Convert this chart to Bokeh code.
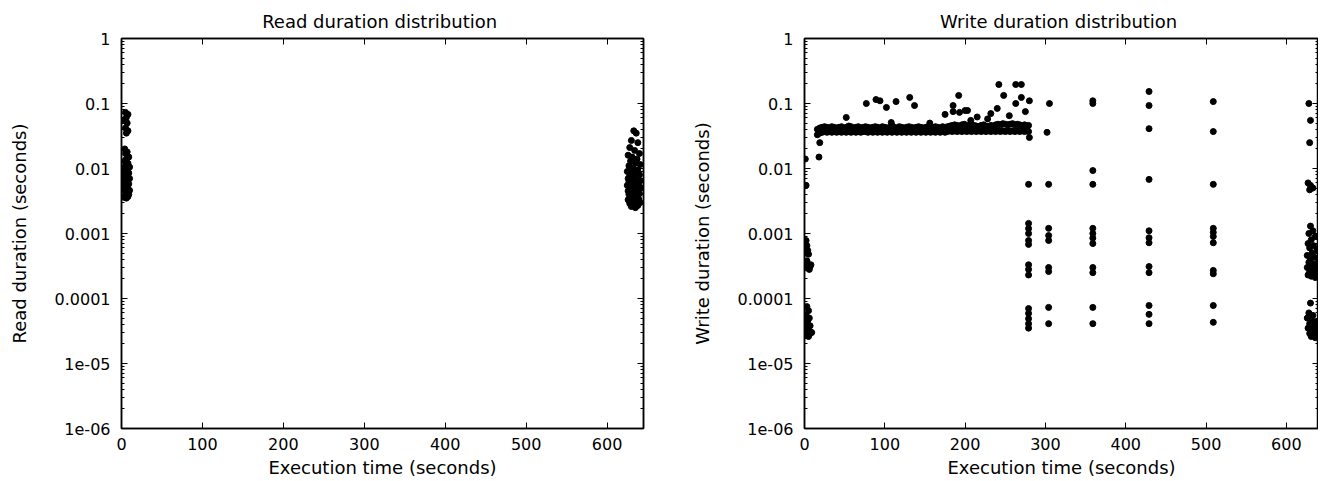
from bokeh.plotting import figure
from bokeh.layouts import row
from bokeh.models import FixedTicker, LinearAxis, LogAxis, Range1d
from bokeh.embed import file_html
from bokeh.resources import INLINE

# ---------------- tick labels ----------------
x_ticks = [0, 100, 200, 300, 400, 500, 600]
y_ticks = [1e-6, 1e-5, 1e-4, 1e-3, 1e-2, 1e-1, 1]
y_tick_labels = ["1e-06", "1e-05", "0.0001", "0.001", "0.01", "0.1", "1"]

# ---------------- read durations ----------------
read_x = [5, 8, 6, 4, 7, 5, 8, 6,
          4, 7, 5, 9, 6, 4, 8, 5, 10, 3, 7, 5, 9, 4, 6, 8, 3, 10, 5, 7, 4, 9,
          6, 3, 8, 5, 10, 4, 7, 6, 9, 5, 8, 3, 6,
          633, 636, 630, 638, 628, 634, 640, 626, 631, 637, 629, 635, 641, 627,
          632, 638, 625, 630, 636, 640, 628, 633, 626, 631, 637, 641, 627, 629,
          634, 639, 625, 631, 636, 642, 628, 633, 638, 626, 630, 635, 640, 627,
          632, 637, 629, 634, 639, 626, 631, 636, 641, 628, 633, 638, 630, 635]
read_y = [0.073, 0.068, 0.061, 0.055, 0.05, 0.042, 0.038, 0.035,
          0.020, 0.018, 0.017, 0.015, 0.014, 0.013, 0.012, 0.011, 0.0105, 0.010,
          0.0095, 0.009, 0.0085, 0.008, 0.0078, 0.0075, 0.007, 0.007, 0.0066,
          0.0062, 0.006, 0.0058, 0.0055, 0.0052, 0.005, 0.0048, 0.0046, 0.0045,
          0.0043, 0.0041, 0.004, 0.0038, 0.0037, 0.0036, 0.0035,
          0.038, 0.035, 0.027, 0.025, 0.021, 0.019, 0.017, 0.016, 0.015, 0.014,
          0.013, 0.012, 0.0115, 0.011, 0.010, 0.0095, 0.009, 0.0088, 0.0085,
          0.008, 0.0078, 0.0075, 0.007, 0.0068, 0.0066, 0.0065, 0.0062, 0.006,
          0.0058, 0.0057, 0.0055, 0.0053, 0.0052, 0.005, 0.0049, 0.0047, 0.0046,
          0.0045, 0.0043, 0.0042, 0.0041, 0.004, 0.0038, 0.0037, 0.0036, 0.0035,
          0.0034, 0.0033, 0.0032, 0.0031, 0.003, 0.0029, 0.0028, 0.0027, 0.0026,
          0.0025]

# ---------------- write durations: steady band ----------------
band_x = [16, 19, 22, 25, 28, 31, 34, 37, 40, 43,
          46, 49, 52, 55, 58, 61, 64, 67, 70, 73,
          76, 79, 82, 85, 88, 91, 94, 97, 100, 103,
          106, 109, 112, 115, 118, 121, 124, 127, 130, 133,
          136, 139, 142, 145, 148, 151, 154, 157, 160, 163,
          166, 169, 172, 175, 178, 181, 184, 187, 190, 193,
          196, 199, 202, 205, 208, 211, 214, 217, 220, 223,
          226, 229, 232, 235, 238, 241, 244, 247, 250, 253,
          256, 259, 262, 265, 268, 271, 274, 277, 279]
band_hi = [0.040, 0.042, 0.043, 0.044, 0.043, 0.042, 0.044, 0.043, 0.042, 0.043,
           0.044, 0.042, 0.043, 0.045, 0.044, 0.042, 0.043, 0.044, 0.042, 0.043,
           0.044, 0.043, 0.042, 0.043, 0.044, 0.043, 0.042, 0.044, 0.043, 0.042,
           0.043, 0.046, 0.043, 0.042, 0.044, 0.043, 0.042, 0.043, 0.044, 0.043,
           0.042, 0.043, 0.044, 0.043, 0.042, 0.043, 0.044, 0.042, 0.043, 0.044,
           0.043, 0.042, 0.044, 0.043, 0.044, 0.045, 0.046, 0.047, 0.046, 0.045,
           0.047, 0.048, 0.046, 0.045, 0.047, 0.046, 0.045, 0.044, 0.046, 0.047,
           0.045, 0.044, 0.046, 0.045, 0.047, 0.048, 0.047, 0.049, 0.048, 0.047,
           0.048, 0.049, 0.047, 0.048, 0.047, 0.046, 0.047, 0.045, 0.046]
band_lo = [0.033, 0.035, 0.036, 0.037, 0.036, 0.037, 0.036, 0.037, 0.036, 0.037,
           0.036, 0.037, 0.036, 0.037, 0.036, 0.037, 0.036, 0.037, 0.036, 0.037,
           0.037, 0.036, 0.037, 0.036, 0.037, 0.036, 0.037, 0.036, 0.037, 0.036,
           0.037, 0.036, 0.037, 0.036, 0.037, 0.036, 0.037, 0.036, 0.037, 0.036,
           0.037, 0.036, 0.037, 0.036, 0.037, 0.036, 0.037, 0.036, 0.037, 0.036,
           0.037, 0.036, 0.037, 0.036, 0.037, 0.038, 0.037, 0.038, 0.037, 0.038,
           0.037, 0.038, 0.037, 0.038, 0.037, 0.038, 0.037, 0.038, 0.037, 0.038,
           0.037, 0.038, 0.037, 0.038, 0.037, 0.038, 0.037, 0.038, 0.037, 0.038,
           0.037, 0.038, 0.037, 0.038, 0.037, 0.038, 0.037, 0.038, 0.037]

# ---------------- write durations: scattered points ----------------
start_x = [1, 18, 19, 2,
           2, 3, 4, 2, 5, 3, 4, 6, 2, 7, 5, 8, 3, 1, 6,
           3, 5, 2, 6, 4, 3, 7, 2, 5, 8, 4, 6, 3, 1, 9, 2, 5]
start_y = [0.014, 0.015, 0.025, 0.0055,
           7.8e-4, 6.5e-4, 5.5e-4, 5.0e-4, 4.8e-4, 3.8e-4, 3.4e-4, 3.2e-4, 3.0e-4,
           3.1e-4, 2.9e-4, 3.3e-4, 3.5e-4, 3.2e-4, 2.8e-4,
           7.5e-5, 6.5e-5, 5.5e-5, 5.0e-5, 4.5e-5, 4.0e-5, 3.8e-5, 3.5e-5, 3.2e-5,
           3.0e-5, 2.9e-5, 2.8e-5, 3.1e-5, 3.3e-5, 3.0e-5, 2.7e-5, 2.6e-5]

slow_x = [52, 77, 89, 94, 102, 114, 131, 137, 175, 185,
          185, 192, 193, 200, 108, 156, 207, 242, 263, 270,
          248, 270, 263, 280, 275, 240, 203, 280, 305, 302,
          215, 228, 255, 232]
slow_y = [0.061, 0.1, 0.115, 0.11, 0.087, 0.107, 0.124, 0.093, 0.068, 0.093,
          0.075, 0.133, 0.073, 0.078, 0.051, 0.05, 0.055, 0.196, 0.196, 0.196,
          0.133, 0.124, 0.1, 0.11, 0.075, 0.084, 0.078, 0.03, 0.1, 0.036,
          0.062, 0.058, 0.065, 0.07]

burst_t = [279, 304, 359, 429, 509]
burst_d = [
    [0.0057, 0.00143, 0.00119, 0.001, 7.8e-4, 6.8e-4, 3.3e-4, 2.8e-4, 2.3e-4,
     7.0e-5, 5.9e-5, 4.9e-5, 4.1e-5, 3.5e-5],
    [0.0057, 0.0012, 9.3e-4, 7.8e-4, 3.0e-4, 2.6e-4, 7.3e-5, 4.1e-5],
    [0.11, 0.1, 0.0093, 0.0057, 0.0012, 0.001, 8.5e-4, 7e-4, 3e-4, 2.5e-4,
     7.3e-5, 4.1e-5],
    [0.153, 0.093, 0.041, 0.0068, 0.0011, 8.6e-4, 7.2e-4, 3.1e-4, 2.5e-4,
     7.8e-5, 5.7e-5, 4.1e-5],
    [0.107, 0.037, 0.0057, 0.0012, 0.00104, 9e-4, 7.2e-4, 2.7e-4, 2.4e-4,
     7.8e-5, 4.3e-5],
]

end_x = [628, 630, 629,
         627, 630, 633, 629, 631,
         630, 633, 628, 636, 631, 627, 634, 629, 638, 632, 626, 635, 630, 640,
         628, 633, 637, 626, 631, 635, 629, 639, 633, 627, 631, 636,
         630, 628, 633, 626, 631, 636, 629, 634, 639, 627, 632, 637, 641, 629,
         634, 638, 631, 636]
end_y = [0.1, 0.055, 0.025,
         0.006, 0.0055, 0.005, 0.0047, 0.0052,
         0.0013, 0.0011, 0.001, 9e-4, 8e-4, 7e-4, 6.5e-4, 6e-4, 5.5e-4, 5e-4,
         4.6e-4, 4.3e-4, 4e-4, 3.8e-4, 3.6e-4, 3.4e-4, 3.2e-4, 3.0e-4, 2.9e-4,
         2.7e-4, 2.6e-4, 2.5e-4, 2.4e-4, 2.3e-4, 2.2e-4, 2.1e-4,
         8.5e-5, 6e-5, 5.5e-5, 5e-5, 4.7e-5, 4.4e-5, 4.1e-5, 3.9e-5, 3.7e-5,
         3.5e-5, 3.3e-5, 3.2e-5, 3.0e-5, 2.9e-5, 2.8e-5, 2.7e-5, 2.6e-5, 2.5e-5]

FONT = "DejaVu Sans"
minor_y = [m * 10.0 ** e for e in range(-6, 0) for m in range(2, 10)]


def style(p, title, ylabel):
    p.title.text = title
    p.title.align = "center"
    p.title.text_font = FONT
    p.title.text_font_size = "18px"
    p.title.text_font_style = "normal"
    p.title.text_color = "black"
    p.title.standoff = 13
    p.outline_line_color = "black"
    p.outline_line_width = 1.5
    p.xgrid.visible = False
    p.ygrid.visible = False
    p.background_fill_color = "white"
    p.border_fill_color = "white"

    xt = FixedTicker(ticks=x_ticks, minor_ticks=[])
    yt = FixedTicker(ticks=y_ticks, minor_ticks=minor_y)
    overrides = {t: l for t, l in zip(y_ticks, y_tick_labels)}

    xa = p.xaxis[0]
    xa.ticker = xt
    xa.axis_label = "Execution time (seconds)"
    ya = p.yaxis[0]
    ya.ticker = yt
    ya.major_label_overrides = overrides
    ya.axis_label = ylabel

    for ax in (xa, ya):
        ax.axis_line_color = "black"
        ax.axis_line_width = 1.5
        ax.major_tick_in = 6
        ax.major_tick_out = 0
        ax.minor_tick_in = 3
        ax.minor_tick_out = 0
        ax.major_tick_line_color = "black"
        ax.minor_tick_line_color = "black"
        ax.major_label_text_font = FONT
        ax.major_label_text_font_size = "16px"
        ax.major_label_text_color = "black"
        ax.axis_label_text_font = FONT
        ax.axis_label_text_font_size = "18px"
        ax.axis_label_text_font_style = "normal"
        ax.axis_label_text_color = "black"
    xa.major_label_standoff = 9
    xa.axis_label_standoff = 4
    ya.major_label_standoff = 11
    ya.axis_label_standoff = 22

    top = LinearAxis(ticker=xt, major_label_text_font_size="1px",
                     major_label_text_color=None, major_label_standoff=0,
                     major_tick_in=6, major_tick_out=0, minor_tick_in=0,
                     minor_tick_out=0, axis_line_color="black", axis_line_width=1.5)
    right = LogAxis(ticker=yt, major_label_text_font_size="1px",
                    major_label_text_color=None, major_label_standoff=0,
                    major_tick_in=6, major_tick_out=0, minor_tick_in=3,
                    minor_tick_out=0, axis_line_color="black", axis_line_width=1.5)
    p.add_layout(top, "above")
    p.add_layout(right, "right")


MK = dict(marker="circle", size=6, color="black")

p1 = figure(width=688, height=480, y_axis_type="log",
            x_range=Range1d(0, 645), y_range=Range1d(1e-6, 1),
            output_backend="svg", toolbar_location=None,
            min_border_left=121, min_border_right=45,
            min_border_top=38, min_border_bottom=52)
style(p1, "Read duration  distribution", "Read duration (seconds)")
p1.scatter(read_x, read_y, **MK)

p2 = figure(width=630, height=480, y_axis_type="log",
            x_range=Range1d(0, 640), y_range=Range1d(1e-6, 1),
            output_backend="svg", toolbar_location=None,
            min_border_left=113, min_border_right=0,
            min_border_top=38, min_border_bottom=52)
style(p2, "Write duration  distribution", "Write duration (seconds)")
p2.scatter(band_x, band_hi, **MK)
p2.scatter(band_x, band_lo, **MK)
p2.scatter(start_x, start_y, **MK)
p2.scatter(slow_x, slow_y, **MK)
for t, vals in zip(burst_t, burst_d):
    p2.scatter([t] * len(vals), vals, **MK)
p2.scatter(end_x, end_y, **MK)

layout = row(p1, p2)
open("out.html", "w").write(file_html(layout, INLINE))
